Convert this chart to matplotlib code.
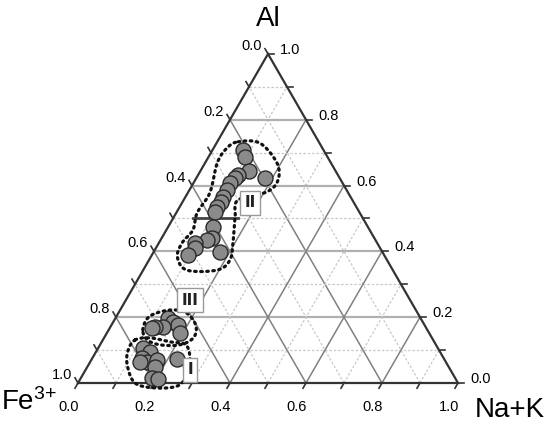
import numpy as np
import matplotlib
matplotlib.use("Agg")
from matplotlib import pyplot as plt

plt.rcParams['font.family'] = ['Liberation Sans', 'DejaVu Sans']
plt.rcParams['mathtext.fontset'] = 'custom'
plt.rcParams['mathtext.rm'] = 'Liberation Sans'
plt.rcParams['mathtext.default'] = 'regular'

# compositions: Al fraction, Na+K fraction (Fe3+ = rest)
al_ii = [0.708, 0.686, 0.645, 0.624, 0.632, 0.624, 0.607, 0.587, 0.566, 0.551,
         0.534, 0.521, 0.475, 0.440, 0.435, 0.425, 0.409, 0.389, 0.399]
nak_ii = [0.081, 0.096, 0.128, 0.180, 0.106, 0.101, 0.097, 0.098, 0.099, 0.102,
          0.098, 0.101, 0.118, 0.132, 0.122, 0.096, 0.103, 0.095, 0.174]

al_iii = [0.197, 0.186, 0.176, 0.151, 0.171, 0.171, 0.166]
nak_iii = [0.139, 0.158, 0.176, 0.193, 0.139, 0.117, 0.111]

al_i = [0.105, 0.095, 0.075, 0.065, 0.065, 0.070, 0.050, 0.073, 0.014, 0.011]
nak_i = [0.119, 0.142, 0.130, 0.148, 0.131, 0.172, 0.178, 0.223, 0.187, 0.205]

# dotted field outlines (Al, Na+K)
outline_ii = [(0.733, 0.055), (0.729, 0.114), (0.669, 0.189), (0.617, 0.218),
              (0.581, 0.207), (0.556, 0.143), (0.505, 0.161), (0.435, 0.191),
              (0.374, 0.213), (0.343, 0.194), (0.343, 0.115), (0.383, 0.070),
              (0.426, 0.061), (0.465, 0.070), (0.517, 0.055), (0.578, 0.058),
              (0.669, 0.032), (0.714, 0.035)]
outline_iii = [(0.161, 0.090), (0.198, 0.085), (0.216, 0.108), (0.222, 0.144),
               (0.210, 0.184), (0.173, 0.224), (0.137, 0.235), (0.116, 0.210),
               (0.116, 0.158), (0.131, 0.117)]
outline_i = [(0.131, 0.085), (0.137, 0.121), (0.125, 0.180), (0.116, 0.226),
             (0.070, 0.260), (0.024, 0.275), (-0.009, 0.266), (-0.015, 0.211),
             (0.0, 0.150), (0.055, 0.102), (0.100, 0.082)]

field_names = ['II', 'III', 'I']
field_pos = [(0.547, 0.179), (0.252, 0.169), (0.040, 0.275)]

ticks = np.round(np.arange(0, 1.01, 0.1), 2)
major = np.round(np.arange(0, 1.01, 0.2), 2)

H = np.sqrt(3) / 2
PX = 1 / 380.0  # one pixel in triangle units


def tern(a, n):
    a = np.asarray(a, float)
    n = np.asarray(n, float)
    return n + a / 2, a * H


def smooth_closed(pts, k=12):
    p = np.array(pts, float)
    m = len(p)
    out = []
    for i in range(m):
        p0, p1, p2, p3 = p[i - 1], p[i], p[(i + 1) % m], p[(i + 2) % m]
        for t in np.linspace(0, 1, k, endpoint=False):
            out.append(0.5 * (2 * p1 + (-p0 + p2) * t
                              + (2 * p0 - 5 * p1 + 4 * p2 - p3) * t ** 2
                              + (-p0 + 3 * p1 - 3 * p2 + p3) * t ** 3))
    out.append(out[0])
    return np.array(out)


fig = plt.figure(figsize=(5.5, 4.28), dpi=100)
ax = fig.add_axes([0, 0, 1, 1])
ax.set_xlim(-78 * PX, 472 * PX)
ax.set_ylim(-45 * PX, 383 * PX)
ax.set_aspect('equal')
ax.axis('off')

# grid
for v in ticks[1:-1]:
    is_major = v in major
    ls = '-' if is_major else (0, (2, 1.5))
    # constant Al (horizontal)
    x, y = tern([v, v], [0, 1 - v])
    ax.plot(x, y, ls=ls, color='#b0b0b0' if is_major else '#c8c8c8',
            lw=1.6 if is_major else 0.9, zorder=1)
    # constant Na+K
    x, y = tern([0, 1 - v], [v, v])
    ax.plot(x, y, ls=ls, color='#808080' if is_major else '#c8c8c8',
            lw=1.1 if is_major else 0.9, zorder=1)
    # constant Fe
    x, y = tern([0, 1 - v], [1 - v, 0])
    ax.plot(x, y, ls=ls, color='#808080' if is_major else '#c8c8c8',
            lw=1.1 if is_major else 0.9, zorder=1)

# darker segment on Al = 0.5
x, y = tern([0.5, 0.5], [0.053, 0.171])
ax.plot(x, y, color='#444444', lw=2, zorder=2)

# triangle frame
x, y = tern([0, 0, 1, 0], [0, 1, 0, 0])
ax.plot(x, y, color='#333333', lw=1.6, zorder=3, solid_joinstyle='miter')

L = 6 * PX
for v in ticks:
    # bottom axis: Na+K
    bx, by = tern(0, v)
    ax.plot([bx, bx - 0.5 * L], [by, by - H * L], color='#333333', lw=1.2)
    # left axis: Fe3+
    lx, ly = tern(1 - v, 0)
    ax.plot([lx, lx - 0.5 * L], [ly, ly + H * L], color='#333333', lw=1.2)
    # right axis: Al
    rx, ry = tern(v, 1 - v)
    ax.plot([rx, rx + L], [ry, ry], color='#333333', lw=1.2)
    if v in major:
        ax.text(bx - 9 * PX, by - 24 * PX, f'{v:.1f}', ha='center',
                va='center', fontsize=10.5)
        ax.text(lx - 6 * PX, ly + 8 * PX, f'{v:.1f}', ha='right',
                va='center', fontsize=10.5)
        ax.text(rx + 12 * PX, ry + 4 * PX, f'{v:.1f}', ha='left',
                va='center', fontsize=10.5)

# outlines
for outline in [outline_ii, outline_iii, outline_i]:
    s = smooth_closed(outline)
    x, y = tern(s[:, 0], s[:, 1])
    ax.plot(x, y, color='#111111', lw=2.3, ls=(0, (0.5, 1.4)),
            dash_capstyle='round', zorder=6)

# samples
for al, nak in [(al_ii, nak_ii), (al_iii, nak_iii), (al_i, nak_i)]:
    x, y = tern(al, nak)
    ax.plot(x, y, 'o', ms=10.8, mfc='#8a8a8a', mec='#2a2a2a', mew=1.0,
            zorder=5, clip_on=False)

# field labels
for name, (a, n) in zip(field_names, field_pos):
    x, y = tern(a, n)
    ax.text(x, y, name, ha='center', va='center', fontsize=11,
            fontweight='bold', family='DejaVu Sans Condensed', color='#222222',
            bbox=dict(boxstyle='square,pad=0.3', fc='white', ec='#999999',
                      lw=1), zorder=7)

# corner titles
tx, ty = tern(1, 0)
ax.text(tx, ty + 35 * PX, 'Al', ha='center', va='center', fontsize=20)
ax.text(-77 * PX, -19 * PX, 'Fe$^{3{+}}$', ha='left', va='center', fontsize=20)
ax.text(432 * PX, -27 * PX, 'Na+K', ha='center', va='center', fontsize=20)

fig.savefig('out.png', dpi=100)
